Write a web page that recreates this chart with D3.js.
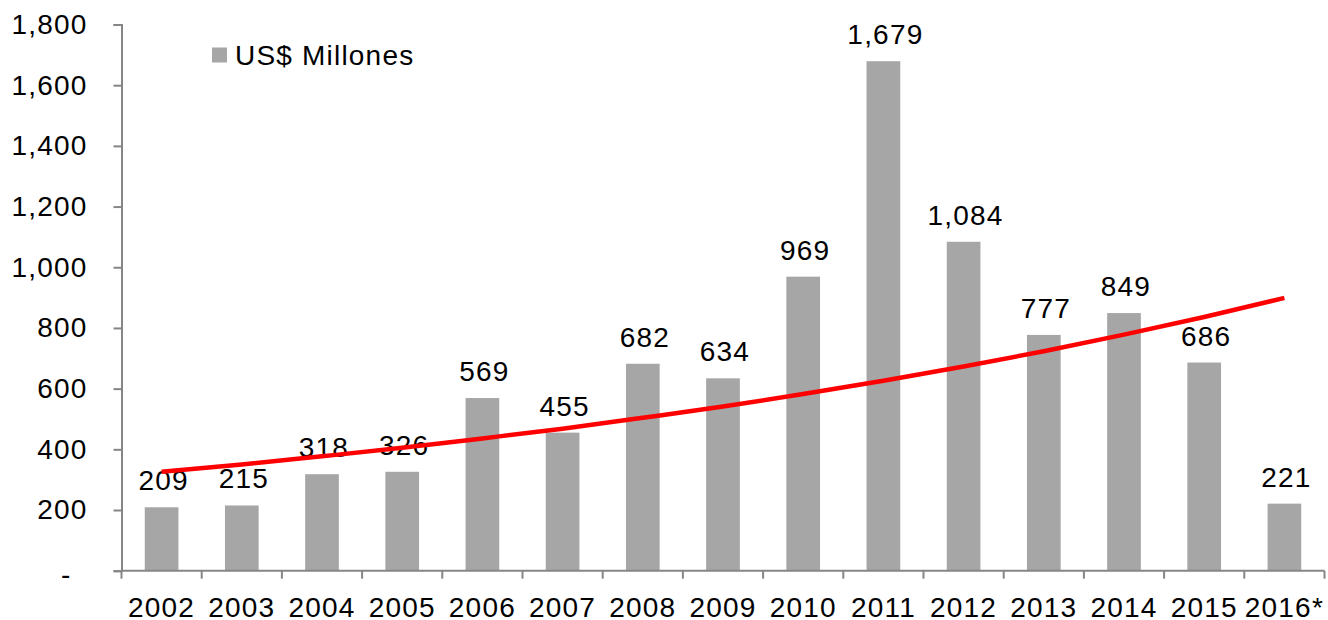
<!DOCTYPE html>
<html>
<head>
<meta charset="utf-8">
<script src="https://cdn.jsdelivr.net/npm/d3@7"></script>
<style>
  body { margin: 0; background: #fff; }
  svg text { font-family: "Liberation Sans", Arial, sans-serif; fill: #000; letter-spacing: 1.2px; }
  .axis path, .axis line { stroke: #868686; stroke-width: 2; }
</style>
</head>
<body>
<script>
var years = ['2002','2003','2004','2005','2006','2007','2008','2009','2010','2011','2012','2013','2014','2015','2016*'];
var values = [209,215,318,326,569,455,682,634,969,1679,1084,777,849,686,221];
// trend line (exponential trend in the original)
var trend = [326,350,377,405,436,468,504,541,582,626,673,723,778,836,899];
var yTicks = [0,200,400,600,800,1000,1200,1400,1600,1800];

var W = 1328, H = 620;
var mLeft = 121.5, mRight = 1324.5, mTop = 24.5, mBottom = 570.7;
var fs = 28;

var svg = d3.select("body").append("svg").attr("width", W).attr("height", H);

var x = d3.scaleBand().domain(years).range([mLeft, mRight]).paddingInner(0.58).paddingOuter(0.29);
var y = d3.scaleLinear().domain([0, 1800]).range([mBottom, mTop]);

var fmt = d3.format(",");

// y axis
var yAxis = svg.append("g")
  .attr("class", "axis")
  .attr("transform", "translate(" + mLeft + ",0)")
  .call(d3.axisLeft(y).tickValues(yTicks).tickSize(8).tickPadding(26)
    .tickFormat(function(d){ return d === 0 ? "-" : fmt(d); }));
yAxis.attr("font-size", fs).attr("font-family", "Liberation Sans, Arial, sans-serif");
yAxis.selectAll(".tick").filter(function(d){ return d === 0; }).select("text").attr("dx", -16).attr("dy", "0.45em");

// bars
svg.selectAll("rect.bar")
  .data(values)
  .enter().append("rect")
    .attr("class", "bar")
    .attr("x", function(d,i){ return x(years[i]); })
    .attr("width", x.bandwidth())
    .attr("y", function(d){ return y(d); })
    .attr("height", function(d){ return mBottom - y(d); })
    .attr("fill", "#a6a6a6");

// x axis with ticks at band edges
var xAxis = svg.append("g")
  .attr("class", "axis")
  .attr("transform", "translate(0," + mBottom + ")");
xAxis.append("line").attr("x1", mLeft).attr("x2", mRight).attr("y1", 0).attr("y2", 0);
var edges = d3.range(years.length + 1).map(function(i){ return mLeft + i * x.step(); });
xAxis.selectAll("line.tk")
  .data(edges)
  .enter().append("line")
    .attr("class", "tk")
    .attr("x1", function(d){ return d; })
    .attr("x2", function(d){ return d; })
    .attr("y1", 0).attr("y2", 8);
xAxis.selectAll("text")
  .data(years)
  .enter().append("text")
    .attr("x", function(d){ return x(d) + x.bandwidth() / 2; })
    .attr("y", 46)
    .attr("text-anchor", "middle")
    .attr("font-size", fs)
    .text(function(d){ return d; });

// value labels
svg.selectAll("text.val")
  .data(values)
  .enter().append("text")
    .attr("class", "val")
    .attr("x", function(d,i){ return x(years[i]) + x.bandwidth() / 2 + 2; })
    .attr("y", function(d){ return y(d) - 17; })
    .attr("text-anchor", "middle")
    .attr("font-size", fs)
    .text(function(d){ return fmt(d); });

// trend line
var line = d3.line()
  .x(function(d,i){ return x(years[i]) + x.bandwidth() / 2; })
  .y(function(d){ return y(d); })
  .curve(d3.curveMonotoneX);
svg.append("path")
  .datum(trend)
  .attr("d", line)
  .attr("fill", "none")
  .attr("stroke", "#ff0000")
  .attr("stroke-width", 4.5);

// legend
svg.append("rect").attr("x", 212).attr("y", 47.5).attr("width", 15).attr("height", 15).attr("fill", "#a6a6a6");
svg.append("text").attr("x", 235).attr("y", 65).attr("font-size", fs).text("US$ Millones");
</script>
</body>
</html>
